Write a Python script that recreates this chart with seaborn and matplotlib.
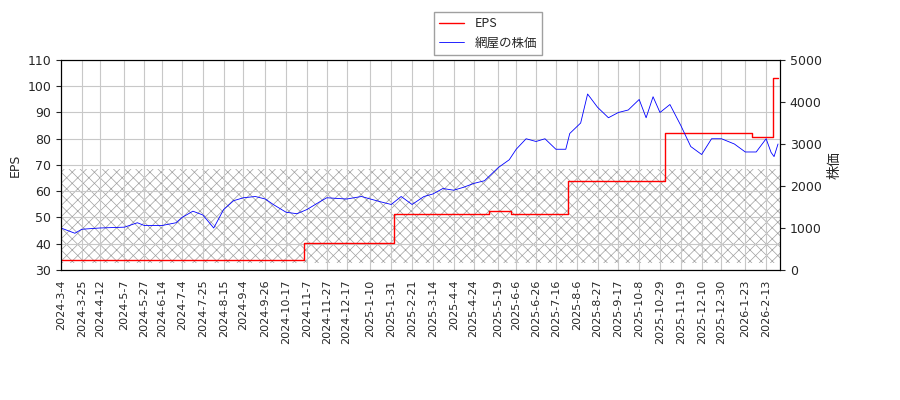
import pandas as pd
import seaborn as sns
import matplotlib.pyplot as plt
import matplotlib.dates as mdates

# price (yen)
price_dates = ["2024-3-4", "2024-3-18", "2024-3-25", "2024-4-12", "2024-5-7", "2024-5-20", "2024-5-27",
               "2024-6-14", "2024-6-28", "2024-7-4", "2024-7-15", "2024-7-25", "2024-8-5", "2024-8-15",
               "2024-8-25", "2024-9-4", "2024-9-16", "2024-9-26", "2024-10-4", "2024-10-17", "2024-10-28",
               "2024-11-7", "2024-11-20", "2024-11-27", "2024-12-17", "2025-1-1", "2025-1-10", "2025-1-20",
               "2025-1-31", "2025-2-10", "2025-2-21", "2025-3-5", "2025-3-14", "2025-3-24", "2025-4-4",
               "2025-4-14", "2025-4-24", "2025-5-5", "2025-5-19", "2025-5-30", "2025-6-6", "2025-6-16",
               "2025-6-26", "2025-7-5", "2025-7-16", "2025-7-26", "2025-7-30", "2025-8-10", "2025-8-17",
               "2025-8-27", "2025-9-7", "2025-9-17", "2025-9-27", "2025-10-8", "2025-10-15", "2025-10-22",
               "2025-10-29", "2025-11-8", "2025-11-19", "2025-11-29", "2025-12-10", "2025-12-20",
               "2025-12-30", "2026-1-12", "2026-1-23", "2026-2-3", "2026-2-13", "2026-2-18", "2026-2-21",
               "2026-2-25"]
price_vals = [1000, 875, 970, 1000, 1020, 1125, 1060, 1060, 1125, 1250, 1400, 1310, 1000, 1440,
              1650, 1720, 1750, 1690, 1560, 1375, 1340, 1440, 1625, 1720, 1690, 1750, 1690, 1625,
              1560, 1750, 1560, 1750, 1810, 1940, 1900, 1970, 2060, 2125, 2440, 2625, 2875, 3125,
              3060, 3125, 2875, 2875, 3250, 3500, 4190, 3875, 3625, 3750, 3810, 4060, 3625, 4125,
              3750, 3940, 3440, 2940, 2750, 3125, 3125, 3000, 2810, 2810, 3125, 2800, 2700, 3000]

# EPS steps
eps_dates = ["2024-3-4", "2024-11-4", "2025-2-3", "2025-5-10", "2025-6-1", "2025-7-28",
             "2025-11-3", "2026-1-30", "2026-2-20", "2026-2-25"]
eps_vals = [34.0, 40.2, 51.5, 52.5, 51.5, 64.0, 82.0, 80.5, 103.0, 103.0]

tick_labels = ["2024-3-4", "2024-3-25", "2024-4-12", "2024-5-7", "2024-5-27", "2024-6-14", "2024-7-4",
               "2024-7-25", "2024-8-15", "2024-9-4", "2024-9-26", "2024-10-17", "2024-11-7",
               "2024-11-27", "2024-12-17", "2025-1-10", "2025-1-31", "2025-2-21", "2025-3-14",
               "2025-4-4", "2025-4-24", "2025-5-19", "2025-6-6", "2025-6-26", "2025-7-16", "2025-8-6",
               "2025-8-27", "2025-9-17", "2025-10-8", "2025-10-29", "2025-11-19", "2025-12-10",
               "2025-12-30", "2026-1-23", "2026-2-13"]

df_price = pd.DataFrame({"date": pd.to_datetime(price_dates), "price": price_vals})
df_eps = pd.DataFrame({"date": pd.to_datetime(eps_dates), "eps": eps_vals})

sns.set_style("white")
plt.rcParams['font.family'] = ['DejaVu Sans', 'Noto Sans CJK JP']
plt.rcParams['hatch.linewidth'] = 0.5

fig = plt.figure(figsize=(9, 4), dpi=100)
ax = fig.add_axes([61/900, 130/400, 719/900, 210/400])
ax2 = ax.twinx()

ax.axhspan(32.7, 68.4, facecolor="none", edgecolor="#a0a0a0", hatch="xxx", linewidth=0, zorder=0)
ax.grid(True, color="#c8c8c8", linewidth=0.8)
ax.set_axisbelow(True)

sns.lineplot(data=df_eps, x="date", y="eps", ax=ax, color="red", linewidth=1,
             drawstyle="steps-post", label="EPS", legend=False)
sns.lineplot(data=df_price, x="date", y="price", ax=ax2, color="blue", linewidth=0.6,
             label="網屋の株価", legend=False)

ax.set_ylim(30, 110)
ax2.set_ylim(0, 5000)
ax.set_xlim(pd.Timestamp("2024-3-4"), pd.Timestamp("2026-2-27"))
ax.set_xticks(pd.to_datetime(tick_labels))
ax.set_xticklabels(tick_labels, rotation=90, fontsize=8)
ax.tick_params(axis="y", labelsize=9)
ax2.tick_params(axis="y", labelsize=9)
ax.set_xlabel("")
ax.set_ylabel("EPS", fontsize=9)
ax2.set_ylabel("株価", fontsize=10, family=['Noto Sans CJK JP', 'DejaVu Sans'])
for a in (ax, ax2):
    for s in a.spines.values():
        s.set_color("black")

h1, l1 = ax.get_legend_handles_labels()
h2, l2 = ax2.get_legend_handles_labels()
fig.legend(h1 + h2, l1 + l2, loc="upper center", bbox_to_anchor=(488/900, 0.985),
           prop={'family': ['Noto Sans CJK JP', 'DejaVu Sans'], 'size': 9},
           fancybox=False, edgecolor="#888888")

fig.savefig("out.png")
